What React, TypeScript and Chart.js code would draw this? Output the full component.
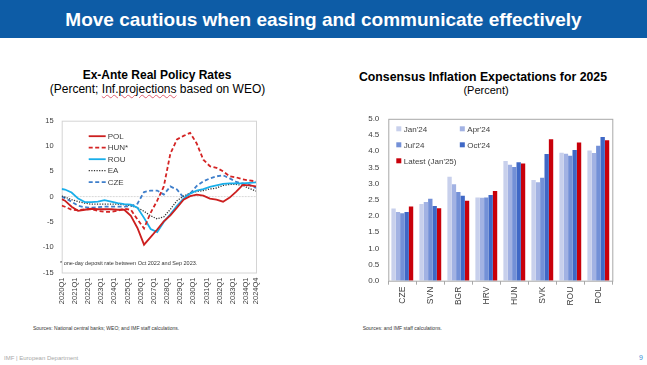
import React, { useEffect, useRef } from 'react';
import { Chart, registerables } from 'chart.js';

Chart.register(...registerables);

const FONT = '"Liberation Sans", Arial, sans-serif';

// ---------- Left chart: Ex-Ante Real Policy Rates ----------
const monthIdx = [0, 1, 3, 5, 7, 9, 11, 13, 15, 17, 19, 21, 23, 25, 27, 29, 31, 33, 35, 37, 39, 41, 43, 45, 47, 49, 51, 53, 55, 57, 59];
const xTickPos = [0, 4, 8, 12, 16, 20, 24, 28, 32, 36, 40, 44, 48, 52, 56, 59];
const xTickLabels = ['2020Q1', '2021Q1', '2022Q1', '2023Q1', '2024Q1', '2025Q1', '2026Q1', '2027Q1', '2028Q1', '2029Q1', '2030Q1', '2031Q1', '2032Q1', '2033Q1', '2034Q1', '2024Q4'];
const polRates = [-0.5, -0.8, -2.0, -2.8, -2.6, -2.4, -2.5, -2.5, -2.5, -2.6, -2.6, -3.8, -6.2, -9.5, -8.0, -6.5, -4.9, -3.7, -2.2, -0.6, 0.1, 0.4, 0.2, -0.4, -0.6, -1.0, -0.2, 1.0, 2.3, 2.2, 2.0];
const hunRates = [-1.8, -2.0, -2.6, -2.7, -2.5, -2.5, -2.8, -3.0, -3.0, -2.8, -2.4, -2.6, -4.5, -6.3, -3.2, -0.8, 2.0, 8.5, 11.3, 12.0, 12.6, 10.5, 7.3, 6.0, 5.7, 5.0, 4.0, 3.8, 3.4, 3.2, 3.0];
const rouRates = [1.5, 1.4, 0.8, -0.4, -1.1, -1.1, -1.0, -0.7, -1.0, -1.3, -1.5, -1.6, -2.2, -4.2, -6.4, -7.0, -5.0, -3.5, -1.8, -0.4, 0.6, 1.2, 1.5, 1.9, 2.2, 2.5, 2.6, 2.6, 2.6, 2.7, 2.8];
const eaRates = [0.1, -0.1, -0.6, -1.0, -1.3, -1.5, -1.5, -1.5, -1.5, -1.5, -1.6, -1.8, -2.2, -2.9, -3.8, -4.4, -4.0, -2.5, -0.8, 0.1, 0.7, 1.0, 1.2, 1.5, 1.7, 2.2, 2.4, 2.4, 2.2, 1.6, 1.1];
const czeRates = [0.0, -0.3, -1.0, -1.8, -2.1, -2.2, -2.1, -2.0, -2.0, -2.0, -2.0, -1.9, -1.4, 0.9, 1.2, 1.2, 0.4, 2.0, 1.4, -0.2, 0.6, 2.1, 3.0, 3.6, 4.0, 4.2, 3.6, 2.9, 2.6, 2.3, 1.7];
const yTicksLeft = [-15, -10, -5, 0, 5, 10, 15];

// ---------- Right chart: Consensus Inflation Expectations for 2025 ----------
const countries = ['CZE', 'SVN', 'BGR', 'HRV', 'HUN', 'SVK', 'ROU', 'POL'];
const jan24 = [2.23, 2.37, 3.21, 2.57, 3.70, 3.11, 3.95, 4.02];
const apr24 = [2.12, 2.43, 2.98, 2.56, 3.58, 3.04, 3.92, 3.94];
const jul24 = [2.08, 2.53, 2.74, 2.57, 3.51, 3.18, 3.86, 4.17];
const oct24 = [2.12, 2.31, 2.62, 2.65, 3.66, 3.91, 4.04, 4.44];
const latest = [2.29, 2.24, 2.47, 2.77, 3.62, 4.37, 4.27, 4.34];

const lineLegendPlugin = {
  id: 'lineLegend',
  afterDatasetsDraw(chart: any) {
    const { ctx, chartArea } = chart;
    chart.data.datasets.forEach((ds: any, i: number) => {
      const y = chartArea.top + 15.5 + i * 11.5;
      const x0 = chartArea.left + 27;
      ctx.save();
      ctx.strokeStyle = ds.borderColor;
      ctx.lineWidth = ds.borderWidth;
      ctx.setLineDash(ds.borderDash || []);
      ctx.beginPath();
      ctx.moveTo(x0, y);
      ctx.lineTo(x0 + 17, y);
      ctx.stroke();
      ctx.setLineDash([]);
      ctx.fillStyle = '#404040';
      ctx.font = `8px ${FONT}`;
      ctx.textBaseline = 'middle';
      ctx.fillText(ds.label, x0 + 19, y + 0.5);
      ctx.restore();
    });
  },
};

const frameLinePlugin = {
  id: 'frameLine',
  beforeDatasetsDraw(chart: any) {
    const { ctx, chartArea, scales } = chart;
    ctx.save();
    const y0 = scales.y.getPixelForValue(0);
    ctx.strokeStyle = '#D8D8D8';
    ctx.lineWidth = 1;
    ctx.setLineDash([2, 1]);
    ctx.beginPath();
    ctx.moveTo(chartArea.left, y0);
    ctx.lineTo(chartArea.right, y0);
    ctx.stroke();
    ctx.setLineDash([]);
    ctx.strokeStyle = '#D4D4D4';
    ctx.strokeRect(chartArea.left + 0.5, chartArea.top + 0.5, chartArea.right - chartArea.left, chartArea.bottom - chartArea.top);
    ctx.restore();
  },
};

const barFramePlugin = {
  id: 'barFrame',
  afterDraw(chart: any) {
    const { ctx, chartArea } = chart;
    ctx.save();
    ctx.strokeStyle = '#A8A8A8';
    ctx.lineWidth = 1;
    ctx.strokeRect(chartArea.left + 0.5, chartArea.top + 0.5, chartArea.right - chartArea.left, chartArea.bottom - chartArea.top);
    ctx.restore();
  },
};

const barLegendPlugin = {
  id: 'barLegend',
  afterDraw(chart: any) {
    const { ctx, chartArea } = chart;
    chart.data.datasets.forEach((ds: any, i: number) => {
      const col = i % 2;
      const row = Math.floor(i / 2);
      const x = chartArea.left + 8 + col * 63.5;
      const y = chartArea.top + 10 + row * 16;
      ctx.save();
      ctx.fillStyle = ds.backgroundColor;
      ctx.fillRect(x, y - 2.5, 5, 5);
      ctx.fillStyle = '#404040';
      ctx.font = `8px ${FONT}`;
      ctx.textBaseline = 'middle';
      ctx.fillText(ds.label, x + 7.5, y + 0.5);
      ctx.restore();
    });
  },
};

function LeftChart() {
  const ref = useRef<HTMLCanvasElement>(null);
  useEffect(() => {
    const mk = (label: string, vals: number[], color: string, width: number, dash: number[]) => ({
      label,
      data: monthIdx.map((x, i) => ({ x, y: vals[i] })),
      borderColor: color,
      borderWidth: width,
      borderDash: dash,
      pointRadius: 0,
      tension: 0,
      fill: false,
    });
    const chart = new Chart(ref.current as HTMLCanvasElement, {
      type: 'line',
      data: {
        datasets: [
          mk('POL', polRates, '#CC1F1F', 1.8, []),
          mk('HUN*', hunRates, '#D42424', 1.8, [4, 2.5]),
          mk('ROU', rouRates, '#18AEEA', 1.8, []),
          mk('EA', eaRates, '#333333', 1.3, [1.2, 1.4]),
          mk('CZE', czeRates, '#3F7FCB', 1.8, [4, 2.5]),
        ] as any,
      },
      options: {
        animation: false,
        responsive: false,
        maintainAspectRatio: false,
        layout: { padding: { left: 0, right: 10, top: 15.7, bottom: 0 } },
        plugins: { legend: { display: false }, tooltip: { enabled: false } },
        scales: {
          x: {
            type: 'linear',
            min: 0,
            max: 59,
            afterBuildTicks: (axis: any) => {
              axis.ticks = xTickPos.map((v) => ({ value: v }));
            },
            afterFit: (s: any) => {
              s.height = 42.5;
            },
            ticks: {
              autoSkip: false,
              minRotation: 90,
              maxRotation: 90,
              padding: 5,
              color: '#404040',
              font: { family: FONT, size: 7.5 },
              callback: (_v: any, i: number) => xTickLabels[i],
            },
            grid: { display: false, drawTicks: false },
            border: { display: false },
          },
          y: {
            min: -15,
            max: 15,
            afterBuildTicks: (axis: any) => {
              axis.ticks = yTicksLeft.map((v) => ({ value: v }));
            },
            afterFit: (s: any) => {
              s.width = 41.7;
            },
            ticks: {
              padding: 8,
              color: '#404040',
              font: { family: FONT, size: 7.5 },
            },
            grid: { display: false, drawTicks: false },
            border: { display: false },
          },
        },
      } as any,
      plugins: [frameLinePlugin, lineLegendPlugin],
    });
    return () => chart.destroy();
  }, []);
  return <canvas ref={ref} width={250} height={210} style={{ position: 'absolute', left: 20, top: 105, width: 250, height: 210 }} />;
}

function RightChart() {
  const ref = useRef<HTMLCanvasElement>(null);
  useEffect(() => {
    const mk = (label: string, vals: number[], color: string) => ({
      label,
      data: vals,
      backgroundColor: color,
      borderWidth: 0,
      categoryPercentage: 0.78,
      barPercentage: 1.0,
    });
    const chart = new Chart(ref.current as HTMLCanvasElement, {
      type: 'bar',
      data: {
        labels: countries,
        datasets: [
          mk("Jan'24", jan24, '#C8D0EC'),
          mk("Apr'24", apr24, '#A2B2E3'),
          mk("Jul'24", jul24, '#7390D7'),
          mk("Oct'24", oct24, '#3F68C6'),
          mk('Latest (Jan\'25)', latest, '#C8000A'),
        ],
      },
      options: {
        animation: false,
        responsive: false,
        maintainAspectRatio: false,
        layout: { padding: { left: 0, right: 12.7, top: 11, bottom: 0 } },
        plugins: { legend: { display: false }, tooltip: { enabled: false } },
        scales: {
          x: {
            afterFit: (s: any) => {
              s.height = 34.3;
            },
            ticks: {
              autoSkip: false,
              minRotation: 90,
              maxRotation: 90,
              padding: 2,
              color: '#404040',
              font: { family: FONT, size: 8.5 },
            },
            grid: { display: true, drawOnChartArea: false, drawTicks: true, tickLength: 4, offset: true, color: '#A8A8A8' },
            border: { display: false },
          },
          y: {
            min: 0,
            max: 5,
            afterFit: (s: any) => {
              s.width = 43.3;
            },
            ticks: {
              stepSize: 0.5,
              padding: 9,
              color: '#404040',
              font: { family: FONT, size: 8 },
              callback: (v: any) => Number(v).toFixed(1),
            },
            grid: { display: false, drawTicks: false },
            border: { display: false },
          },
        },
      } as any,
      plugins: [barFramePlugin, barLegendPlugin],
    });
    return () => chart.destroy();
  }, []);
  return <canvas ref={ref} width={280} height={210} style={{ position: 'absolute', left: 345, top: 105, width: 280, height: 210 }} />;
}

const abs = (s: React.CSSProperties): React.CSSProperties => ({ position: 'absolute', whiteSpace: 'nowrap', fontFamily: FONT, ...s });

export default function App() {
  return (
    <div style={{ position: 'fixed', left: 0, top: 0, width: 647, height: 365, background: '#FFFFFF', overflow: 'hidden' }}>
      <div style={abs({ left: 0, top: 0, width: 647, height: 38, background: '#0D5CA6' })} />
      <div style={abs({ left: 0, top: 8.5, width: 647, textAlign: 'center', color: '#FFFFFF', fontWeight: 'bold', fontSize: 19, lineHeight: '22px' })}>
        Move cautious when easing and communicate effectively
      </div>

      <div style={abs({ left: 7, top: 68, width: 300, textAlign: 'center', color: '#000', fontWeight: 'bold', fontSize: 12, lineHeight: '14px' })}>
        Ex-Ante Real Policy Rates
      </div>
      <div style={abs({ left: 7.5, top: 82.3, width: 300, textAlign: 'center', color: '#000', fontSize: 12, lineHeight: '14px' })}>
        (Percent; <span style={{ textDecoration: 'underline wavy #E06070', textDecorationThickness: 1 }}>Inf.projections</span> based on WEO)
      </div>

      <div style={abs({ left: 333, top: 70.3, width: 300, textAlign: 'center', color: '#000', fontWeight: 'bold', fontSize: 12.3, lineHeight: '14px' })}>
        Consensus Inflation Expectations for 2025
      </div>
      <div style={abs({ left: 336, top: 84, width: 300, textAlign: 'center', color: '#000', fontSize: 11, lineHeight: '13px' })}>
        (Percent)
      </div>

      <LeftChart />
      <RightChart />

      <div style={abs({ left: 60, top: 259.5, color: '#333', fontSize: 5.5, lineHeight: '7px' })}>
        * one-day deposit rate between Oct 2022 and Sep 2023.
      </div>
      <div style={abs({ left: 33, top: 324.7, color: '#333', fontSize: 5, lineHeight: '6px' })}>
        Sources: National central banks; WEO; and IMF staff calculations.
      </div>
      <div style={abs({ left: 362.7, top: 325.3, color: '#333', fontSize: 5, lineHeight: '6px' })}>
        Sources: and IMF staff calculations.
      </div>

      <div style={abs({ left: 4, top: 354.5, color: '#A8A8A8', fontSize: 6, lineHeight: '7px' })}>
        IMF | European Department
      </div>
      <div style={abs({ left: 639, top: 354, color: '#3C8FD6', fontSize: 7, lineHeight: '8px' })}>
        9
      </div>
    </div>
  );
}
